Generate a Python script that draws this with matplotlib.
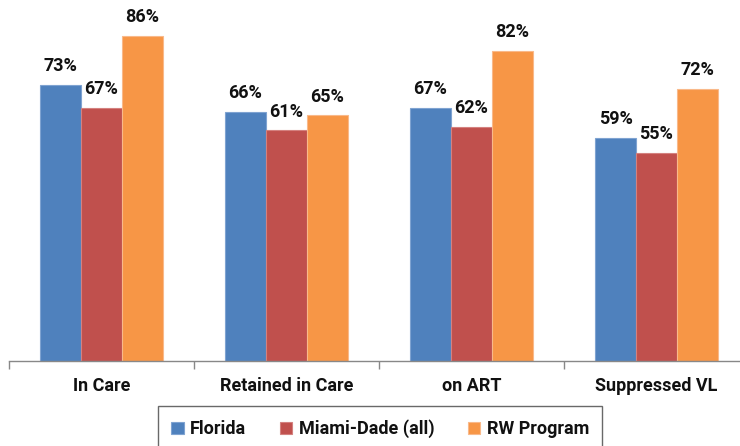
import matplotlib
matplotlib.use("Agg")
import matplotlib.pyplot as plt
import numpy as np

categories = ["In Care", "Retained in Care", "on ART", "Suppressed VL"]
series_names = ["Florida", "Miami-Dade (all)", "RW Program"]
florida = [73, 66, 67, 59]
miami = [67, 61, 62, 55]
rw = [86, 65, 82, 72]
colors = ["#4F81BD", "#C0504D", "#F79646"]
edge_colors = ["#7FA3D1", "#D4817F", "#F9B98A"]

plt.rcParams['font.family'] = ['Roboto', 'DejaVu Sans']

W, H = 740, 446
fig = plt.figure(figsize=(W / 100, H / 100), dpi=100)
left = 9 / W
width = 740 / W
bottom = (H - 361) / H
height = 361 / H
ax = fig.add_axes([left, bottom, width, height])

x = np.arange(len(categories))
bw = 0.2216
data = [florida, miami, rw]
for i, (vals, c, ec, name) in enumerate(zip(data, colors, edge_colors, series_names)):
    pos = x + (i - 1) * bw
    bars = ax.bar(pos, vals, bw, color=c, label=name, edgecolor=ec, linewidth=0.8)
    for b, v in zip(bars, vals):
        ax.annotate(f"{v}%", (b.get_x() + b.get_width() / 2, v), xytext=(0, 7.0),
                    textcoords='offset points', ha='center', va='bottom',
                    fontsize=13, fontweight='bold', color='#111111')

ax.set_xlim(-0.5, 3.5)
ax.set_ylim(0, 361 / 3.78)
ax.set_yticks([])
for s in ['top', 'right', 'left']:
    ax.spines[s].set_visible(False)
ax.spines['bottom'].set_color('#888888')
ax.spines['bottom'].set_linewidth(1)
ax.set_xticks([-0.5, 0.5, 1.5, 2.5, 3.5])
ax.set_xticklabels([])
ax.tick_params(axis='x', length=6, color='#888888', width=1)
for xi, cat in zip(x, categories):
    ax.text(xi, -6.6, cat, ha='center', va='center', fontsize=13, fontweight='bold',
            color='#111111', transform=ax.transData)

leg = fig.legend(loc='lower center', bbox_to_anchor=(380 / W, -6 / H), ncol=3,
                 frameon=True, fancybox=False, edgecolor='#444444',
                 prop={'weight': 'bold', 'size': 13}, handlelength=0.7, handleheight=0.7,
                 handletextpad=0.35, columnspacing=1.85, borderpad=0.75, borderaxespad=0)
leg.get_frame().set_linewidth(1)
for t in leg.get_texts():
    t.set_color('#111111')

fig.savefig("out.png", dpi=100)
